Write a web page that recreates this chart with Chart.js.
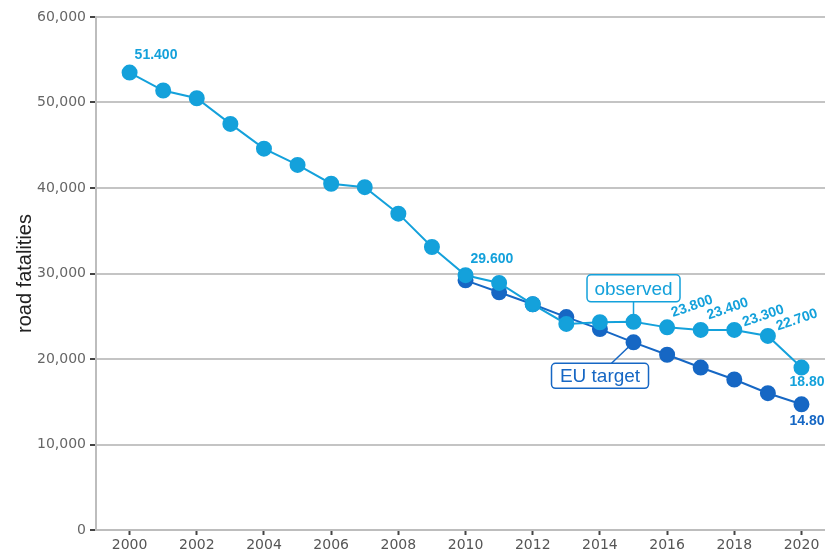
<!DOCTYPE html>
<html>
<head>
<meta charset="utf-8">
<script src="https://cdn.jsdelivr.net/npm/chart.js@4"></script>
<style>
  html, body { margin: 0; padding: 0; background: #fff; }
  #wrap { width: 825px; height: 556px; position: relative; }
</style>
</head>
<body>
<div id="wrap"><canvas id="chart"></canvas></div>
<script>
// data
const years = [2000, 2001, 2002, 2003, 2004, 2005, 2006, 2007, 2008, 2009, 2010,
               2011, 2012, 2013, 2014, 2015, 2016, 2017, 2018, 2019, 2020];
const observed = [53500, 51400, 50500, 47500, 44600, 42700, 40500, 40100, 37000, 33100, 29800,
                  28900, 26400, 24100, 24300, 24350, 23700, 23400, 23400, 22700, 19000];
const euTarget = [null, null, null, null, null, null, null, null, null, null, 29200,
                  27800, 26400, 24900, 23500, 21950, 20500, 19000, 17600, 16000, 14700];
const observedLabelYears = [2000, 2010, 2016, 2017, 2018, 2019, 2020];
const observedLabelText = ['51.400', '29.600', '23.800', '23.400', '23.300', '22.700', '18.800'];
const euLabelYears = [2020];
const euLabelText = ['14.800'];
const xTickYears = [2000, 2002, 2004, 2006, 2008, 2010, 2012, 2014, 2016, 2018, 2020];

const LIGHT = '#14a1db';
const DARK = '#1667c4';

const toPoints = vals => years.map((yr, i) => ({ x: yr, y: vals[i] }));

// value labels, placed relative to the point they belong to
const valueLabels = {
  id: 'valueLabels',
  afterDatasetsDraw(chart) {
    const ctx = chart.ctx;
    const place = [
      { dx: 5, dy: -17, rot: 0, align: 'left' },
      { dx: 5, dy: -16, rot: 0, align: 'left' },
      { dx: 25, dy: -21, rot: -19, align: 'center' },
      { dx: 27, dy: -21, rot: -19, align: 'center' },
      { dx: 29, dy: -14, rot: -19, align: 'center' },
      { dx: 29, dy: -16, rot: -19, align: 'center' },
      { dx: -12, dy: 15, rot: 0, align: 'left' }
    ];
    const draw = (dsIndex, yrs, texts, places, color) => {
      const meta = chart.getDatasetMeta(dsIndex);
      yrs.forEach((yr, k) => {
        const pt = meta.data[years.indexOf(yr)];
        const p = places[k];
        ctx.save();
        ctx.translate(pt.x + p.dx, pt.y + p.dy);
        ctx.rotate(p.rot * Math.PI / 180);
        ctx.fillStyle = color;
        ctx.font = 'bold 14px "Liberation Sans", Arial, sans-serif';
        ctx.textAlign = p.align;
        ctx.textBaseline = 'middle';
        ctx.fillText(texts[k], 0, 0);
        ctx.restore();
      });
    };
    draw(0, observedLabelYears, observedLabelText, place, LIGHT);
    draw(1, euLabelYears, euLabelText, [{ dx: -12, dy: 17, rot: 0, align: 'left' }], DARK);
  }
};

// "observed" / "EU target" call-out boxes
function roundRect(ctx, x, y, w, h, r) {
  ctx.beginPath();
  ctx.moveTo(x + r, y);
  ctx.arcTo(x + w, y, x + w, y + h, r);
  ctx.arcTo(x + w, y + h, x, y + h, r);
  ctx.arcTo(x, y + h, x, y, r);
  ctx.arcTo(x, y, x + w, y, r);
  ctx.closePath();
}

const callouts = {
  id: 'callouts',
  beforeDatasetsDraw(chart) {
    const ctx = chart.ctx;
    const i = years.indexOf(2015);
    const po = chart.getDatasetMeta(0).data[i];
    const pe = chart.getDatasetMeta(1).data[i];
    ctx.save();
    ctx.lineWidth = 1.5;
    ctx.font = '19px "Liberation Sans", Arial, sans-serif';
    ctx.textAlign = 'center';
    ctx.textBaseline = 'middle';

    // observed
    let bx = po.x - 46.5, by = po.y - 47, bw = 93, bh = 27;
    ctx.strokeStyle = LIGHT;
    ctx.beginPath();
    ctx.moveTo(po.x, by + bh);
    ctx.lineTo(po.x, po.y);
    ctx.stroke();
    roundRect(ctx, bx, by, bw, bh, 4);
    ctx.fillStyle = '#fff';
    ctx.fill();
    ctx.stroke();
    ctx.fillStyle = LIGHT;
    ctx.fillText('observed', bx + bw / 2, by + bh / 2 + 1);

    // EU target
    bx = pe.x - 82, by = pe.y + 21; bw = 97; bh = 25;
    ctx.strokeStyle = DARK;
    ctx.beginPath();
    ctx.moveTo(pe.x - 22, by);
    ctx.lineTo(pe.x, pe.y);
    ctx.stroke();
    roundRect(ctx, bx, by, bw, bh, 4);
    ctx.fillStyle = '#fff';
    ctx.fill();
    ctx.stroke();
    ctx.fillStyle = DARK;
    ctx.fillText('EU target', bx + bw / 2, by + bh / 2 + 1);
    ctx.restore();
  }
};

new Chart(document.getElementById('chart'), {
  type: 'line',
  data: {
    datasets: [
      {
        label: 'observed',
        data: toPoints(observed),
        borderColor: LIGHT,
        backgroundColor: LIGHT,
        borderWidth: 2,
        pointRadius: 7,
        pointHoverRadius: 7,
        tension: 0
      },
      {
        label: 'EU target',
        data: toPoints(euTarget),
        borderColor: DARK,
        backgroundColor: DARK,
        borderWidth: 2,
        pointRadius: 7,
        pointHoverRadius: 7,
        tension: 0
      }
    ]
  },
  options: {
    responsive: true,
    maintainAspectRatio: false,
    animation: false,
    layout: { autoPadding: false, padding: { top: 17, right: 0, bottom: 0, left: 0 } },
    plugins: {
      legend: { display: false },
      tooltip: { enabled: false }
    },
    scales: {
      x: {
        type: 'linear',
        min: 1999,
        max: 2020.7,
        afterFit: s => { s.height = 26; s.paddingLeft = 0; s.paddingRight = 0; },
        afterBuildTicks: s => { s.ticks = xTickYears.map(v => ({ value: v })); },
        ticks: {
          callback: v => String(v),
          color: '#555',
          font: { family: '"DejaVu Sans", sans-serif', size: 14 },
          padding: 2,
          maxRotation: 0
        },
        grid: {
          drawOnChartArea: false,
          drawTicks: true,
          tickLength: 5,
          tickColor: '#444',
          tickWidth: 2
        },
        border: { display: true, color: '#bdbdbd', width: 2 }
      },
      y: {
        min: 0,
        max: 60000,
        afterFit: s => { s.width = 96; s.paddingTop = 0; s.paddingBottom = 0; },
        ticks: {
          stepSize: 10000,
          color: '#666',
          font: { family: '"DejaVu Sans", sans-serif', size: 14 },
          padding: 4
        },
        grid: {
          color: '#c4c4c4',
          lineWidth: 2,
          tickLength: 6,
          tickColor: '#444',
          tickWidth: 2
        },
        border: { display: true, color: '#bdbdbd', width: 2 },
        title: {
          display: true,
          text: 'road fatalities',
          color: '#222',
          font: { family: '"Liberation Sans", Arial, sans-serif', size: 20 },
          padding: { top: 13, bottom: 0 }
        }
      }
    }
  },
  plugins: [callouts, valueLabels]
});
</script>
</body>
</html>
